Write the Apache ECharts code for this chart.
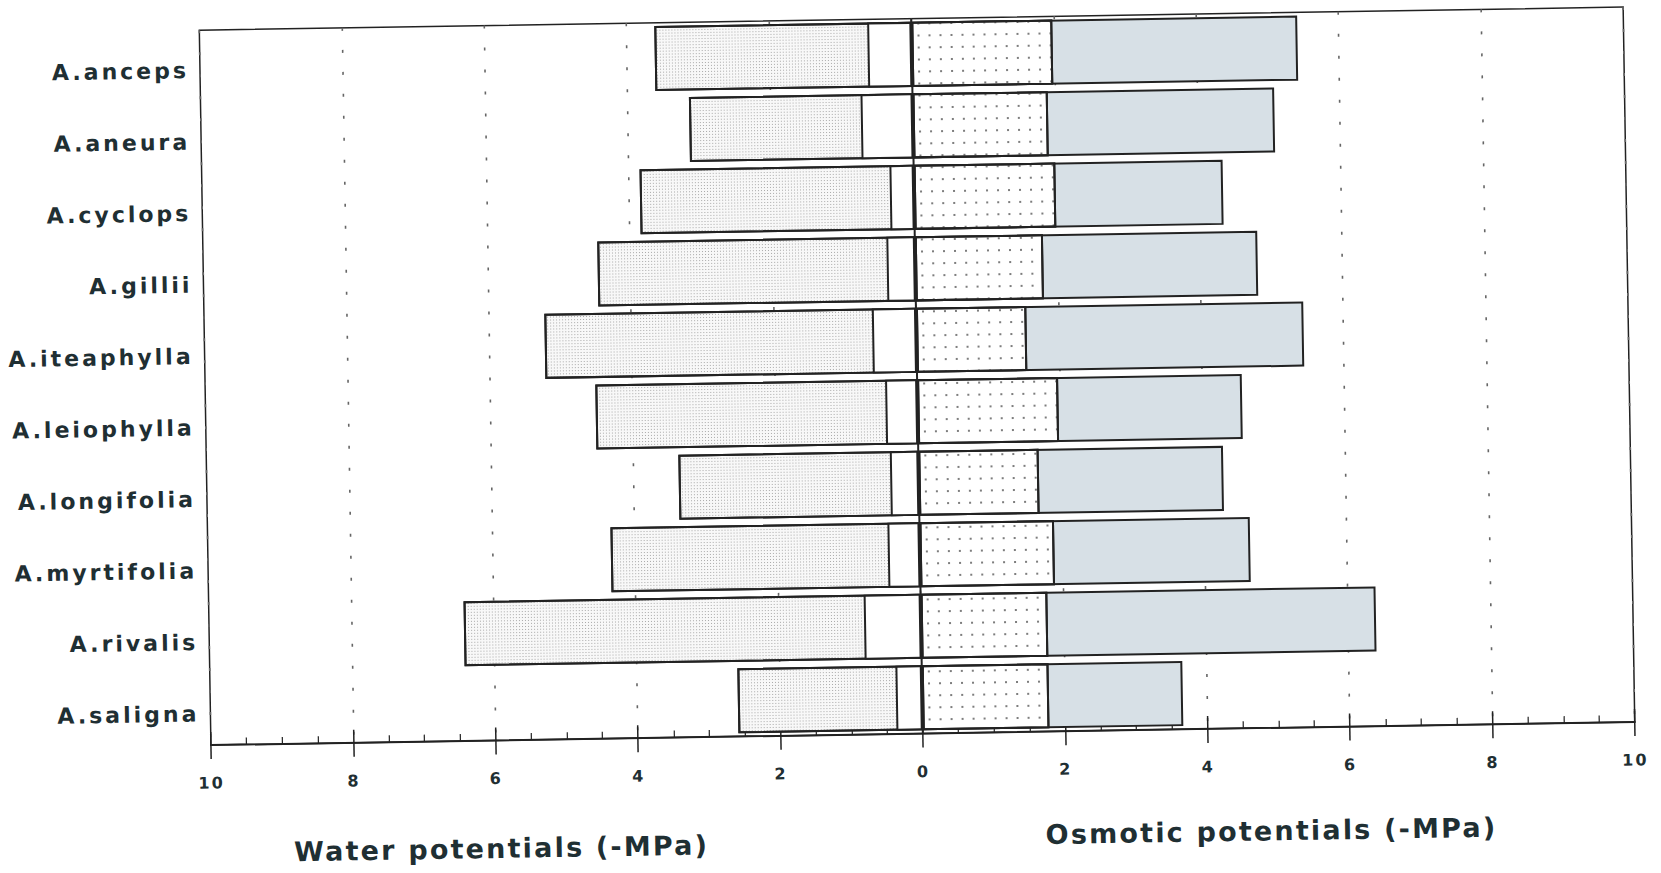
<!DOCTYPE html>
<html>
<head>
<meta charset="utf-8">
<script src="https://cdn.jsdelivr.net/npm/echarts@6/dist/echarts.min.js"></script>
<style>
html,body{margin:0;padding:0;background:#fff;overflow:hidden;}
#chart{width:1661px;height:873px;transform:rotate(-0.93deg);transform-origin:50% 50%;}
#chart text[style*="22px"]{letter-spacing:3px;}
#chart text[style*="16px"]{letter-spacing:2px;}
#chart text[style*="27px"]{letter-spacing:2.2px;}
</style>
</head>
<body>
<div id="chart"></div>
<script>
const species = ['A.anceps','A.aneura','A.cyclops','A.gillii','A.iteaphylla','A.leiophylla','A.longifolia','A.myrtifolia','A.rivalis','A.saligna'];
// Water potentials (-MPa), drawn to the left
const waterMidday  = [3.61, 3.14, 3.85, 4.46, 5.22, 4.52, 3.37, 4.34, 6.42, 2.59];
const waterPredawn = [0.62, 0.73, 0.34, 0.40, 0.62, 0.45, 0.40, 0.45, 0.80, 0.37];
// Osmotic potentials (-MPa), drawn to the right
const osmoticFull  = [1.98, 1.90, 1.99, 1.80, 1.55, 1.98, 1.69, 1.89, 1.78, 1.78];
const osmoticTlp   = [5.42, 5.08, 4.34, 4.81, 5.44, 4.56, 4.28, 4.64, 6.39, 3.66];
const xTicks = [10, 8, 6, 4, 2, 0, 2, 4, 6, 8, 10];
const titleLeft = 'Water potentials (-MPa)';
const titleRight = 'Osmotic potentials (-MPa)';

const chart = echarts.init(document.getElementById('chart'), null, {renderer: 'svg'});
const textColor = '#1f2f33';
const lineColor = '#222';
const fontFam = '"DejaVu Sans", sans-serif';

const barBase = {
  type: 'bar',
  barGap: '-100%',
  barCategoryGap: '9%',
  silent: true,
  animation: false
};

chart.setOption({
  backgroundColor: '#fff',
  animation: false,
  grid: {left: 206, top: 20, width: 1424, height: 715, show: true, borderColor: lineColor, borderWidth: 1.5, backgroundColor: 'transparent'},
  xAxis: [{
    type: 'value', min: -10, max: 10, interval: 2,
    axisLine: {show: true, onZero: false, lineStyle: {color: lineColor, width: 2}},
    axisTick: {show: true, inside: false, length: 14, lineStyle: {color: lineColor, width: 1.5}},
    axisLabel: {
      margin: 30, color: textColor, fontFamily: fontFam, fontWeight: 'bold', fontSize: 16,
      formatter: function (v) { const i = Math.round((v + 10) / 2); return String(xTicks[i]); }
    },
    splitLine: {show: true, lineStyle: {color: '#666', width: 1.6, type: [3, 19]}}
  }, {
    type: 'value', min: -10, max: 10, interval: 2, position: 'bottom', offset: 0,
    axisLine: {show: false},
    axisTick: {show: true, inside: true, length: 13, lineStyle: {color: lineColor, width: 1.5}},
    minorTick: {show: true, splitNumber: 4, length: 7, lineStyle: {color: lineColor, width: 1.2}},
    axisLabel: {show: false},
    splitLine: {show: false}
  }],
  yAxis: {
    type: 'category', data: species, inverse: true,
    axisLine: {show: false}, axisTick: {show: false}, splitLine: {show: false},
    axisLabel: {margin: 11, color: textColor, fontFamily: fontFam, fontWeight: 'bold', fontSize: 22, verticalAlign: 'top', lineHeight: 9}
  },
  series: [
    Object.assign({}, barBase, {
      name: 'Water potential (midday)',
      data: waterMidday.map(v => -v),
      itemStyle: {color: '#f8f8f8', borderColor: lineColor, borderWidth: 2,
        decal: {symbol: 'rect', symbolSize: 1, color: 'rgba(90,90,90,0.5)', dashArrayX: [1, 2], dashArrayY: [1, 2], rotation: 0}}
    }),
    Object.assign({}, barBase, {
      name: 'Water potential (predawn)',
      data: waterPredawn.map(v => -v),
      itemStyle: {color: '#ffffff', borderColor: lineColor, borderWidth: 2}
    }),
    Object.assign({}, barBase, {
      name: 'Osmotic potential (turgor loss)',
      data: osmoticTlp,
      itemStyle: {color: '#d7e0e6', borderColor: lineColor, borderWidth: 2}
    }),
    Object.assign({}, barBase, {
      name: 'Osmotic potential (full turgor)',
      data: osmoticFull,
      itemStyle: {color: '#ffffff', borderColor: lineColor, borderWidth: 2,
        decal: {symbol: 'rect', symbolSize: 1, color: 'rgba(70,70,70,0.7)', dashArrayX: [2, 9], dashArrayY: [2, 10], rotation: 0}},
      markLine: {
        silent: true, symbol: 'none', animation: false,
        label: {show: false},
        lineStyle: {color: lineColor, width: 2, type: 'solid'},
        data: [{xAxis: 0}]
      }
    })
  ],
  graphic: [
    {type: 'text', x: 495, y: 843, silent: true,
      style: {text: titleLeft, fill: textColor, font: 'bold 27px "DejaVu Sans", sans-serif', align: 'center', verticalAlign: 'middle'}},
    {type: 'text', x: 1265, y: 838, silent: true,
      style: {text: titleRight, fill: textColor, font: 'bold 27px "DejaVu Sans", sans-serif', align: 'center', verticalAlign: 'middle'}}
  ]
});
</script>
</body>
</html>
